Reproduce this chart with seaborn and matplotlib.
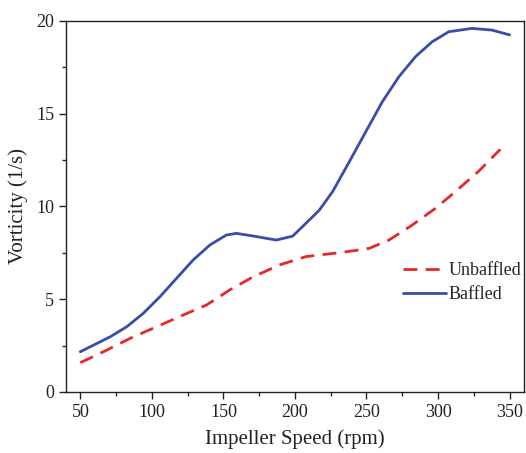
import matplotlib
matplotlib.use("Agg")
import matplotlib.pyplot as plt
import seaborn as sns
import pandas as pd
from matplotlib.ticker import MultipleLocator

speed_baffled = [50, 71, 82.5, 94, 105.7, 117.3, 128.9, 140.5, 152, 159, 170.6, 186.9, 198.4,
                 210, 217, 226.3, 237.9, 249.5, 261.1, 272.7, 284.3, 295.9, 307.5, 323.7,
                 337.6, 350]
vort_baffled = [2.17, 2.98, 3.52, 4.24, 5.14, 6.13, 7.12, 7.92, 8.46, 8.55, 8.41, 8.19, 8.4,
                9.27, 9.8, 10.8, 12.4, 14.03, 15.65, 17.0, 18.08, 18.88, 19.42, 19.6,
                19.51, 19.25]
speed_unbaffled = [50, 66.2, 84.8, 103.4, 121.9, 138.2, 154.4, 170.6, 189.2, 207.8, 233.3,
                   251.8, 265.7, 282, 298.2, 312.1, 328.4, 343.5]
vort_unbaffled = [1.58, 2.17, 2.89, 3.52, 4.15, 4.69, 5.5, 6.2, 6.85, 7.3, 7.53,
                  7.74, 8.19, 9.0, 9.9, 10.8, 11.9, 13.08]

sns.set_style("ticks")
plt.rcParams['font.family'] = ['Liberation Serif', 'DejaVu Serif']

fig = plt.figure(figsize=(5.26, 4.53), dpi=100)
ax = fig.add_axes([0.1255, 0.1347, 0.8705, 0.819])

df_u = pd.DataFrame({"x": speed_unbaffled, "y": vort_unbaffled})
df_b = pd.DataFrame({"x": speed_baffled, "y": vort_baffled})
sns.lineplot(data=df_u, x="x", y="y", ax=ax, color="#e8262b", lw=2.0,
             linestyle=(0, (5, 3)), label="Unbaffled")
sns.lineplot(data=df_b, x="x", y="y", ax=ax, color="#3a4ca8", lw=2.0, label="Baffled")
for ln in ax.lines:
    ln.set_solid_joinstyle("round")
    ln.set_dash_joinstyle("round")

ax.set_xlim(40, 360)
ax.set_ylim(0, 20)
ax.set_xticks([50, 100, 150, 200, 250, 300, 350])
ax.set_yticks([0, 5, 10, 15, 20])
ax.xaxis.set_minor_locator(MultipleLocator(25))
ax.yaxis.set_minor_locator(MultipleLocator(2.5))
ax.tick_params(axis="both", which="major", direction="out", length=5, width=1,
               labelsize=13, colors="#222222")
ax.tick_params(axis="both", which="minor", direction="out", length=3, width=1)
for s in ax.spines.values():
    s.set_visible(True)
    s.set_linewidth(1.0)
    s.set_color("#222222")

ax.set_xlabel("Impeller Speed (rpm)", fontsize=15, color="#222222", labelpad=6)
ax.set_ylabel("Vorticity (1/s)", fontsize=15, color="#222222", labelpad=6)

leg = ax.legend(loc="center right", bbox_to_anchor=(1.03, 0.295), frameon=False,
                fontsize=13, handlelength=2.4, handletextpad=0.15, labelspacing=0.4)

fig.savefig("out.png", dpi=100)
